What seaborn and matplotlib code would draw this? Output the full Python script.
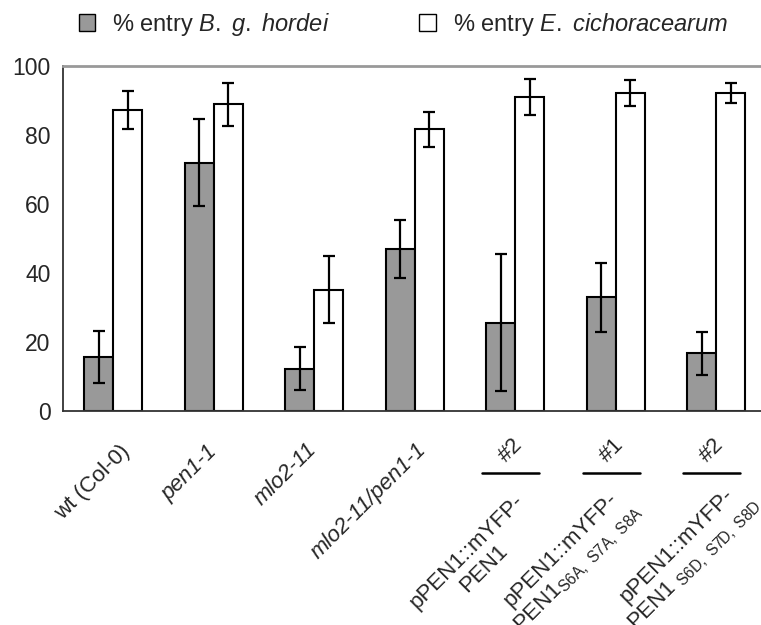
import matplotlib
matplotlib.use("Agg")
import matplotlib.pyplot as plt
import matplotlib.transforms as mtransforms
from matplotlib.patches import Patch
import numpy as np
import pandas as pd
import seaborn as sns

categories = ["wt (Col-0)", "pen1-1", "mlo2-11", "mlo2-11/pen1-1",
              "pPEN1-WT #2", "pPEN1-A #1", "pPEN1-D #2"]
tick_labels = ["wt (Col-0)", "pen1-1", "mlo2-11", "mlo2-11/pen1-1",
               "pPEN1::mYFP-\nPEN1",
               "pPEN1::mYFP-\nPEN1$_{\\mathregular{S6A,\\ S7A,\\ S8A}}$",
               "pPEN1::mYFP-\nPEN1$\\ _{\\mathregular{S6D,\\ S7D,\\ S8D}}$"]
italic_labels = [False, True, True, True, False, False, False]
line_labels = ["", "", "", "", "#2", "#1", "#2"]

series = ["% entry $\\it{B.}$ $\\it{g.}$ $\\it{hordei}$", "% entry $\\it{E.}$ $\\it{cichoracearum}$"]
bgh_values = [15.6, 72.0, 12.3, 46.9, 25.6, 32.9, 16.7]
bgh_errors = [7.5, 12.6, 6.2, 8.4, 19.8, 10.1, 6.2]
ec_values = [87.2, 88.9, 35.2, 81.6, 91.0, 92.2, 92.2]
ec_errors = [5.6, 6.2, 9.8, 5.1, 5.3, 3.8, 2.8]
colors = ["#999999", "#ffffff"]
yticks = [0, 20, 40, 60, 80, 100]

sns.set_theme(style="white")
plt.rcParams["font.family"] = ["Liberation Sans", "DejaVu Sans"]
plt.rcParams["mathtext.fontset"] = "custom"
plt.rcParams["mathtext.rm"] = "Liberation Sans"
plt.rcParams["mathtext.it"] = "Liberation Sans:italic"
plt.rcParams["mathtext.bf"] = "Liberation Sans:bold"

df = pd.DataFrame({
    "category": categories * 2,
    "series": [series[0]] * 7 + [series[1]] * 7,
    "value": bgh_values + ec_values,
    "err": bgh_errors + ec_errors,
})

W, H = 761, 625
fig = plt.figure(figsize=(W / 100, H / 100), dpi=100)
ax = fig.add_axes([63 / W, 214 / H, 703.5 / W, 345 / H])

sns.barplot(data=df, x="category", y="value", hue="series", order=categories,
            hue_order=series, palette=colors, width=0.58, edgecolor="black",
            linewidth=1.5, errorbar=None, ax=ax, legend=False, saturation=1)

# error bars from bar geometry
bars = [p for p in ax.patches if p.get_height() > 0]
xs = [p.get_x() + p.get_width() / 2 for p in bars]
hs = [p.get_height() for p in bars]
errs = bgh_errors + ec_errors
ax.errorbar(xs, hs, yerr=errs, fmt="none", ecolor="black", elinewidth=1.6,
            capsize=4.5, capthick=1.6, zorder=5)

ax.set_xlim(-0.5, 6.5)
ax.set_ylim(0, 100)
ax.set_yticks(yticks)
ax.set_yticklabels([str(v) for v in yticks], fontsize=16.5)
ax.set_xlabel("")
ax.set_ylabel("")

ax.set_xticks(range(len(categories)))
ax.set_xticklabels([""] * len(categories))
ax.tick_params(axis="x", which="major", length=0)
ax.set_xticks(np.arange(-0.5, 7.0, 1.0), minor=True)
ax.tick_params(axis="x", which="minor", length=8, width=1.2, color="#333333",
               direction="out")
ax.tick_params(axis="y", length=6, width=1.2, color="#333333", direction="out",
               pad=3)

for s in ["left", "bottom"]:
    ax.spines[s].set_color("#333333")
    ax.spines[s].set_linewidth(1.3)
ax.spines["top"].set_color("#999999")
ax.spines["top"].set_linewidth(2)
ax.spines["right"].set_visible(False)

trans = mtransforms.blended_transform_factory(ax.transData, ax.transAxes)

# category labels (rotated), offsets in pixels relative to category centre / axis
label_dx = [6, -7, -8, 1, -2, -2, 16]
label_dy = [30, 30, 28, 28, 79, 71, 65]
for i, txt in enumerate(tick_labels):
    off = mtransforms.ScaledTranslation(label_dx[i] / 100, -label_dy[i] / 100,
                                        fig.dpi_scale_trans)
    ax.text(i, 0, txt, rotation=45, ha="right", va="top",
            rotation_mode="anchor", multialignment="center", fontsize=16,
            fontstyle="italic" if italic_labels[i] else "normal",
            transform=trans + off, clip_on=False)

for i, txt in enumerate(line_labels):
    if not txt:
        continue
    ax.plot([i - 0.33, i + 0.24], [-0.18, -0.18], color="black", lw=1.8,
            transform=trans, clip_on=False)
    ax.text(i - 0.04, -0.113, txt, rotation=45, ha="center", va="center",
            fontsize=16, transform=trans)

handles = [Patch(facecolor=c, edgecolor="black", linewidth=1.0) for c in colors]
fig.legend(handles, series, loc="center", bbox_to_anchor=(0.530, 0.961),
           ncol=2, frameon=False, fontsize=17, handlelength=0.7,
           handleheight=0.7, handletextpad=0.7, columnspacing=3.8)

fig.savefig("out.png", dpi=100)
